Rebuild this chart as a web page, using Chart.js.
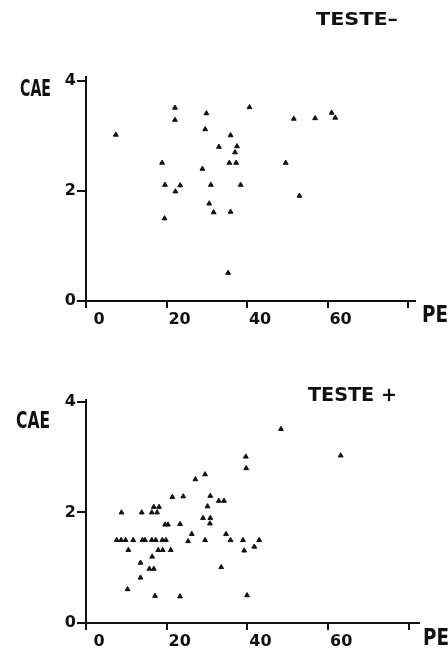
<!DOCTYPE html>
<html><head><meta charset="utf-8">
<script src="https://cdn.jsdelivr.net/npm/chart.js@4"></script>
<style>
html,body{margin:0;padding:0;background:#fff;width:448px;height:650px;overflow:hidden}
.w{position:absolute;left:0;width:448px;height:325px}
</style></head><body>
<div class="w" style="top:0"><canvas id="c1" width="448" height="325"></canvas></div>
<div class="w" style="top:325px"><canvas id="c2" width="448" height="325"></canvas></div>
<script>
// Tick values / labels
const xTickValues = [0, 20, 40, 60, 80];
const xTickLabels = ['0', '20', '40', '60', ''];
const yTickValues = [0, 2, 4];
const yTickLabels = ['0', '2', '4'];

// TESTE – (PE, CAE)
const peNeg  = [7.4, 22.1, 22.1, 29.9, 29.6, 40.6, 51.6, 56.9, 61.0, 61.9, 35.9, 33.0, 37.5, 37.0, 18.9, 35.6, 37.3, 49.6, 28.9, 19.6, 23.4, 22.2, 31.0, 38.4, 53.0, 30.6, 31.7, 35.9, 19.5, 35.3];
const caeNeg = [3.02, 3.51, 3.29, 3.41, 3.12, 3.52, 3.31, 3.32, 3.42, 3.33, 3.01, 2.80, 2.81, 2.70, 2.51, 2.51, 2.51, 2.51, 2.40, 2.11, 2.10, 1.99, 2.11, 2.11, 1.91, 1.77, 1.61, 1.62, 1.50, 0.51];

// TESTE + (PE, CAE)
const pePos  = [48.3, 63.1, 39.6, 39.7, 27.1, 29.5, 21.4, 24.1, 30.8, 32.9, 34.2, 30.1, 16.8, 18.1, 8.8, 13.8, 16.3, 17.6, 29.0, 30.8, 19.6, 20.3, 23.3, 30.7, 26.2, 34.7, 7.6, 8.7, 9.8, 11.7, 14.0, 14.6, 16.3, 17.3, 18.9, 19.8, 25.3, 29.5, 35.8, 38.9, 42.9, 41.7, 39.2, 10.5, 17.9, 19.0, 21.0, 16.4, 13.5, 15.7, 16.8, 33.5, 13.5, 10.3, 17.1, 23.3, 39.9];
const caePos = [3.51, 3.03, 3.01, 2.80, 2.60, 2.69, 2.28, 2.29, 2.30, 2.21, 2.21, 2.11, 2.10, 2.10, 2.00, 2.00, 2.00, 2.00, 1.90, 1.90, 1.78, 1.78, 1.79, 1.80, 1.61, 1.61, 1.50, 1.50, 1.50, 1.50, 1.50, 1.50, 1.50, 1.50, 1.50, 1.50, 1.48, 1.50, 1.50, 1.50, 1.50, 1.38, 1.31, 1.32, 1.32, 1.32, 1.32, 1.20, 1.09, 0.98, 0.98, 1.01, 0.82, 0.61, 0.49, 0.48, 0.50];

const INK = '#111';

const textPlugin = {
  id: 'texts',
  afterDraw(chart, args, opts) {
    const ctx = chart.ctx;
    (opts.items || []).forEach(it => {
      ctx.save();
      ctx.font = `bold ${it.size}px "DejaVu Sans"`;
      ctx.fillStyle = INK;
      ctx.textBaseline = 'alphabetic';
      ctx.textAlign = 'left';
      const w = ctx.measureText(it.text).width;
      const sx = it.width ? it.width / w : (it.sx || 1);
      ctx.translate(it.x, it.y);
      ctx.scale(sx, 1);
      ctx.fillText(it.text, 0, 0);
      ctx.restore();
    });
  }
};

function makeChart(id, xs, ys, cfg) {
  const pts = xs.map((x, i) => ({x: x, y: ys[i]}));
  return new Chart(document.getElementById(id), {
    type: 'scatter',
    data: {datasets: [{
      data: pts,
      pointStyle: 'triangle',
      pointRadius: 2.8,
      pointBorderWidth: 1,
      backgroundColor: INK,
      borderColor: INK
    }]},
    options: {
      responsive: false,
      animation: false,
      events: [],
      layout: {padding: {left: 0, top: cfg.top, right: cfg.right, bottom: 0}},
      plugins: {legend: {display: false}, tooltip: {enabled: false}, title: {display: false},
        texts: {items: cfg.texts}},
      scales: {
        x: {
          type: 'linear', min: 0, max: cfg.xMax,
          afterBuildTicks: s => { s.ticks = xTickValues.map(v => ({value: v})); },
          afterFit: s => { s.height = cfg.xh; },
          ticks: {
            callback: (v, i) => xTickLabels[i],
            labelOffset: 13, padding: 2, maxRotation: 0, autoSkip: false,
            color: INK, font: {family: 'DejaVu Sans', weight: 'bold', size: 16}
          },
          grid: {drawOnChartArea: false, tickLength: 7, color: INK, lineWidth: 2},
          border: {color: INK, width: 2}
        },
        y: {
          type: 'linear', min: 0, max: cfg.yMax,
          afterBuildTicks: s => { s.ticks = yTickValues.map(v => ({value: v})); },
          afterFit: s => { s.width = 86; },
          ticks: {
            callback: (v, i) => yTickLabels[i],
            padding: 1, autoSkip: false,
            color: INK, font: {family: 'DejaVu Sans', weight: 'bold', size: 16}
          },
          grid: {drawOnChartArea: false, tickLength: 9, color: INK, lineWidth: 2},
          border: {color: INK, width: 2}
        }
      }
    },
    plugins: [textPlugin]
  });
}

makeChart('c1', peNeg, caeNeg, {
  top: 77, right: 33, xh: 24, xMax: 81.7, yMax: 4.07,
  texts: [
    {text: 'TESTE\u2013', x: 316, y: 25, size: 18, width: 82},
    {text: 'CAE', x: 20, y: 96, size: 23, width: 31},
    {text: 'PE', x: 422, y: 322, size: 23, sx: 0.8}
  ]
});

makeChart('c2', pePos, caePos, {
  top: 75, right: 29, xh: 27, xMax: 82.5, yMax: 4.036,
  texts: [
    {text: 'TESTE +', x: 308, y: 76, size: 19, width: 89},
    {text: 'CAE', x: 16, y: 103, size: 23, width: 34},
    {text: 'PE', x: 423, y: 320, size: 23, sx: 0.8}
  ]
});
</script>
</body></html>
